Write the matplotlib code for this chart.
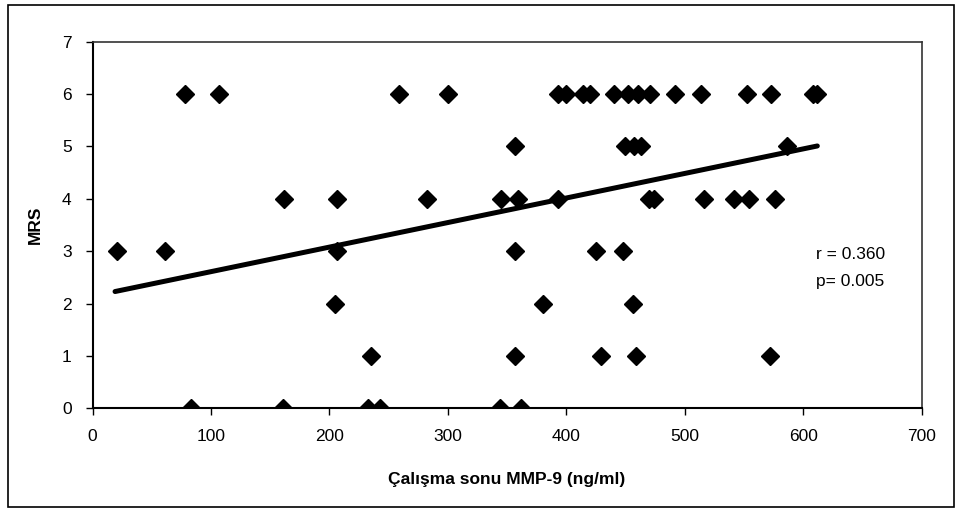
import matplotlib.pyplot as plt
import matplotlib.patches as patches
import numpy as np

plt.rcParams['font.family'] = ['Liberation Sans', 'DejaVu Sans']

# Çalışma sonu MMP-9 (ng/ml) vs MRS
mmp9 = [21, 61, 78, 107, 83, 161, 162, 206, 206, 205,
        235, 233, 243, 259, 300, 282, 345, 359, 357, 357,
        380, 357, 344, 362, 393, 393, 400, 414, 420, 440,
        452, 461, 471, 492, 514, 553, 573, 608, 612, 425,
        448, 450, 457, 463, 456, 429, 459, 470, 474, 516,
        542, 554, 576, 586, 572]
mrs = [3, 3, 6, 6, 0, 0, 4, 4, 3, 2,
       1, 0, 0, 6, 6, 4, 4, 4, 5, 3,
       2, 1, 0, 0, 4, 6, 6, 6, 6, 6,
       6, 6, 6, 6, 6, 6, 6, 6, 6, 3,
       3, 5, 5, 5, 2, 1, 1, 4, 4, 4,
       4, 4, 4, 5, 1]

# trend line as drawn in the original (ends)
trend_x = [19, 612]
trend_y = [2.23, 5.01]

r_text = 'r = 0.360'
p_text = 'p= 0.005'

fig = plt.figure(figsize=(9.68, 5.22), dpi=100)
ax = fig.add_axes([0.0956, 0.2178, 0.8564, 0.7022])

ax.plot(trend_x, trend_y, color='black', lw=3.6, solid_capstyle='round', zorder=2)
ax.plot(mmp9, mrs, 'D', color='black', markersize=9.5, zorder=3)

ax.set_xlim(0, 700)
ax.set_ylim(0, 7)
ax.set_xticks(range(0, 701, 100))
ax.set_yticks(range(0, 8))
ax.tick_params(direction='out', length=5, width=1, labelsize=12.5, color='black', pad=10)

for side in ['left', 'bottom']:
    ax.spines[side].set_linewidth(1.5)
for side in ['top', 'right']:
    ax.spines[side].set_linewidth(1.2)
    ax.spines[side].set_color('#333333')

ax.set_xlabel('Çalışma sonu MMP-9 (ng/ml)', fontsize=12.5, fontweight='bold', labelpad=20)
ax.set_ylabel('MRS', fontsize=12.5, fontweight='bold', labelpad=14)

ax.text(611, 2.93, r_text, fontsize=12.5, va='center', ha='left')
ax.text(611, 2.42, p_text, fontsize=12.5, va='center', ha='left')

# outer chart border
fig.patches.append(patches.Rectangle((0.008, 0.028), 0.978, 0.962, transform=fig.transFigure,
                                     fill=False, edgecolor='black', lw=1.2))

fig.savefig('out.png', dpi=100)
